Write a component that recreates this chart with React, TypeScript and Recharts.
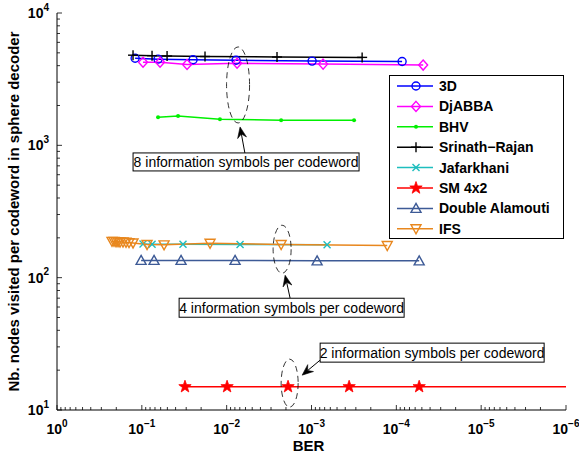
import React from 'react';
import { LineChart, Line, XAxis, YAxis, Legend, ReferenceDot } from 'recharts';

// ---------- data (BER on x, nodes visited on y) ----------
const ber3D = [0.12, 0.0644, 0.0249, 0.00775, 0.000984, 0.0000855];
const nodes3D = [4550, 4480, 4430, 4400, 4330, 4300];

const berDjABBA = [0.0968, 0.061, 0.0293, 0.00754, 0.00073, 0.0000483];
const nodesDjABBA = [4250, 4250, 4080, 4170, 4110, 4040];

const berBHV = [0.0644, 0.0374, 0.012, 0.00228, 0.000315];
const nodesBHV = [1630, 1665, 1575, 1550, 1545];

const berSrinath = [0.127, 0.0758, 0.0504, 0.018, 0.00255, 0.000253];
const nodesSrinath = [4800, 4760, 4730, 4690, 4650, 4620];

const berJafarkhani = [0.0968, 0.0758, 0.0327, 0.00695, 0.000655];
const nodesJafarkhani = [180, 179, 179, 178, 177];

const berSM = [0.031, 0.00989, 0.00189, 0.00036, 0.0000538, 0.000001];
const nodesSM = [15, 15, 15, 15, 15, 15];

const berDouble = [0.102, 0.0718, 0.0345, 0.00796, 0.000859, 0.0000538];
const nodesDouble = [135, 135, 135, 135, 134, 134];

const berIFS = [0.2247, 0.2128, 0.2015, 0.1908, 0.1807, 0.1667, 0.1536, 0.1416, 0.127, 0.0868, 0.0547, 0.0157, 0.00228, 0.000128];
const nodesIFS = [188, 188, 187, 187, 186, 186, 185, 184, 183, 178, 177, 182, 178, 175];

const xDecades = [0, -1, -2, -3, -4, -5, -6];
const yDecades = [1, 2, 3, 4];
const minorMultipliers = [2, 3, 4, 5, 6, 7, 8, 9];

const annotations = [
  { ber: 0.00734, nodes: 2860, text: '8 information symbols per codeword' },
  { ber: 0.00222, nodes: 164, text: '4 information symbols per codeword' },
  { ber: 0.00181, nodes: 15.96, text: '2 information symbols per codeword' },
];

const xTitle = 'BER';
const yTitle = 'Nb. nodes visited per codeword in sphere decoder';

// ---------- helpers ----------
const FONT = '"Liberation Sans", Arial, Helvetica, sans-serif';
const zip = (xs: number[], ys: number[]) => xs.map((x, i) => ({ ber: x, nodes: ys[i] }));

const buildTicks = (decades: number[]) => {
  const out: number[] = [];
  const sorted = [...decades].sort((a, b) => a - b);
  sorted.forEach((e, i) => {
    out.push(Math.pow(10, e));
    if (i < sorted.length - 1) minorMultipliers.forEach((m) => out.push(m * Math.pow(10, e)));
  });
  return out;
};
const xTicks = buildTicks(xDecades);
const yTicks = buildTicks(yDecades);

const expOf = (v: number) => {
  const l = Math.log10(v);
  const r = Math.round(l);
  return Math.abs(l - r) < 1e-6 ? r : null;
};
const supText = (e: number) => (e < 0 ? '\u2212' + Math.abs(e) : String(e));

type Kind = 'circle' | 'diamond' | 'point' | 'plus' | 'cross' | 'star' | 'triUp' | 'triDown';

function Marker({ kind, cx, cy, color }: { kind: Kind; cx: number; cy: number; color: string }) {
  const sw = 1.4;
  switch (kind) {
    case 'circle':
      return <circle cx={cx} cy={cy} r={4} fill="none" stroke={color} strokeWidth={sw} />;
    case 'diamond':
      return (
        <polygon
          points={`${cx},${cy - 5} ${cx + 4.5},${cy} ${cx},${cy + 5} ${cx - 4.5},${cy}`}
          fill="none"
          stroke={color}
          strokeWidth={sw}
        />
      );
    case 'point':
      return <circle cx={cx} cy={cy} r={2} fill={color} stroke="none" />;
    case 'plus':
      return (
        <g stroke={color} strokeWidth={sw}>
          <line x1={cx - 5} x2={cx + 5} y1={cy} y2={cy} />
          <line x1={cx} x2={cx} y1={cy - 5} y2={cy + 5} />
        </g>
      );
    case 'cross':
      return (
        <g stroke={color} strokeWidth={sw}>
          <line x1={cx - 3.5} x2={cx + 3.5} y1={cy - 3.5} y2={cy + 3.5} />
          <line x1={cx - 3.5} x2={cx + 3.5} y1={cy + 3.5} y2={cy - 3.5} />
        </g>
      );
    case 'star': {
      const pts: string[] = [];
      for (let i = 0; i < 10; i++) {
        const r = i % 2 === 0 ? 6.5 : 2.6;
        const a = -Math.PI / 2 + (i * Math.PI) / 5;
        pts.push(`${cx + r * Math.cos(a)},${cy + r * Math.sin(a)}`);
      }
      return <polygon points={pts.join(' ')} fill={color} stroke={color} strokeWidth={0.8} />;
    }
    case 'triUp':
      return (
        <polygon
          points={`${cx},${cy - 5} ${cx + 5},${cy + 4} ${cx - 5},${cy + 4}`}
          fill="none"
          stroke={color}
          strokeWidth={sw}
        />
      );
    case 'triDown':
      return (
        <polygon
          points={`${cx - 5},${cy - 4} ${cx + 5},${cy - 4} ${cx},${cy + 5}`}
          fill="none"
          stroke={color}
          strokeWidth={sw}
        />
      );
  }
  return null;
}

const series: { name: string; color: string; kind: Kind; data: { ber: number; nodes: number }[]; hideLastDot?: boolean }[] = [
  { name: '3D', color: '#0000FF', kind: 'circle', data: zip(ber3D, nodes3D) },
  { name: 'DjABBA', color: '#FF00FF', kind: 'diamond', data: zip(berDjABBA, nodesDjABBA) },
  { name: 'BHV', color: '#00F000', kind: 'point', data: zip(berBHV, nodesBHV) },
  { name: 'Srinath\u2212Rajan', color: '#000000', kind: 'plus', data: zip(berSrinath, nodesSrinath) },
  { name: 'Jafarkhani', color: '#1EBEBE', kind: 'cross', data: zip(berJafarkhani, nodesJafarkhani) },
  { name: 'SM 4x2', color: '#FF0000', kind: 'star', data: zip(berSM, nodesSM), hideLastDot: true },
  { name: 'Double Alamouti', color: '#3D5A96', kind: 'triUp', data: zip(berDouble, nodesDouble) },
  { name: 'IFS', color: '#E8871E', kind: 'triDown', data: zip(berIFS, nodesIFS) },
];

// ---------- ticks ----------
const BottomTick = (p: any) => {
  const { x, y, payload } = p;
  const e = expOf(payload.value);
  const major = e !== null;
  return (
    <g>
      <line x1={x} x2={x} y1={y} y2={y - (major ? 5 : 3)} stroke="#000" strokeWidth={0.8} />
      {major && (
        <text x={x} y={y + 24} textAnchor="middle" fontFamily={FONT} fontWeight="bold" fontSize={14} fill="#000">
          10
          <tspan dy={-7.5} fontSize={10}>
            {supText(e as number)}
          </tspan>
        </text>
      )}
    </g>
  );
};
const TopTick = (p: any) => {
  const { x, y, payload } = p;
  const major = expOf(payload.value) !== null;
  return <line x1={x} x2={x} y1={y} y2={y + (major ? 5 : 3)} stroke="#000" strokeWidth={0.8} />;
};
const LeftTick = (p: any) => {
  const { x, y, payload } = p;
  const e = expOf(payload.value);
  const major = e !== null;
  return (
    <g>
      <line x1={x} x2={x + (major ? 5 : 3)} y1={y} y2={y} stroke="#000" strokeWidth={0.8} />
      {major && (
        <text x={x - 8} y={y + 5} textAnchor="end" fontFamily={FONT} fontWeight="bold" fontSize={14} fill="#000">
          10
          <tspan dy={-7.5} fontSize={10}>
            {supText(e as number)}
          </tspan>
        </text>
      )}
    </g>
  );
};
const RightTick = (p: any) => {
  const { x, y, payload } = p;
  const major = expOf(payload.value) !== null;
  return <line x1={x} x2={x - (major ? 5 : 3)} y1={y} y2={y} stroke="#000" strokeWidth={0.8} />;
};

// ---------- annotations ----------
const annGeom = [
  { rx: 11.5, ry: 38, tip: [2, 42], tail: [7, 69], box: [-105, 68, 226, 18] },
  { rx: 9, ry: 24, tip: [3, 26], tail: [8, 49], box: [-103, 49, 225, 19] },
  { rx: 8.5, ry: 24, tip: [12.5, -8], tail: [30.5, -23], box: [30.5, -40, 224, 19] },
];

const makeAnnotationShape = (i: number, text: string) => (p: any) => {
  const { cx, cy } = p;
  const g = annGeom[i];
  const tx = cx + g.tip[0];
  const ty = cy + g.tip[1];
  const sx = cx + g.tail[0];
  const sy = cy + g.tail[1];
  const dx = tx - sx;
  const dy = ty - sy;
  const len = Math.hypot(dx, dy);
  const ux = dx / len;
  const uy = dy / len;
  const nx = -uy;
  const ny = ux;
  const L = 11;
  const W = 4.5;
  const bx = tx - ux * L;
  const by = ty - uy * L;
  const c1x = tx - ux * L * 0.65;
  const c1y = ty - uy * L * 0.65;
  const head = `${tx},${ty} ${bx + nx * W},${by + ny * W} ${c1x},${c1y} ${bx - nx * W},${by - ny * W}`;
  const [bl, bt, bw, bh] = g.box;
  return (
    <g>
      <ellipse cx={cx} cy={cy} rx={g.rx} ry={g.ry} fill="none" stroke="#000" strokeWidth={0.8} strokeDasharray="6 4" />
      <line x1={sx} y1={sy} x2={c1x} y2={c1y} stroke="#000" strokeWidth={1} />
      <polygon points={head} fill="#000" stroke="#000" strokeWidth={0.6} />
      <rect x={cx + bl} y={cy + bt} width={bw} height={bh} fill="#fff" stroke="#000" strokeWidth={1} />
      <text
        x={cx + bl + bw / 2}
        y={cy + bt + bh / 2 + 5}
        textAnchor="middle"
        fontFamily={FONT}
        fontSize={14}
        fill="#000"
      >
        {text}
      </text>
    </g>
  );
};

// ---------- legend ----------
const LegendBox = () => {
  const rowH = 20.4;
  const h = 164;
  return (
    <div style={{ width: 175, height: h, border: '1px solid #000', background: '#fff', boxSizing: 'border-box' }}>
      <svg width={173} height={h - 2} style={{ display: 'block' }}>
        {series.map((s, i) => {
          const cy = 10 + i * rowH;
          return (
            <g key={s.name}>
              <line x1={7} x2={43} y1={cy} y2={cy} stroke={s.color} strokeWidth={1.5} />
              <Marker kind={s.kind} cx={26} cy={cy} color={s.color} />
              <text x={49} y={cy + 5} fontFamily={FONT} fontWeight="bold" fontSize={14} fill="#000">
                {s.name}
              </text>
            </g>
          );
        })}
      </svg>
    </div>
  );
};

export default function App() {
  return (
    <div style={{ width: 579, height: 455, background: '#fff' }}>
      <style>{'body{margin:0;background:#fff}'}</style>
      <LineChart width={579} height={455} margin={{ top: 13, right: 13, bottom: 0, left: 0 }}>
        <XAxis
          xAxisId="b"
          dataKey="ber"
          type="number"
          scale="log"
          domain={[1e-6, 1]}
          reversed
          allowDataOverflow
          ticks={xTicks}
          interval={0}
          tickSize={0}
          tickMargin={0}
          tickLine={false}
          tick={BottomTick}
          height={45}
          axisLine={{ stroke: '#000', strokeWidth: 1 }}
          label={{
            value: xTitle,
            content: (lp: any) => {
              const vb = lp.viewBox || { x: 57, y: 410, width: 509 };
              return (
                <text
                  x={vb.x + vb.width / 2 - 3}
                  y={vb.y + 41}
                  textAnchor="middle"
                  fontFamily={FONT}
                  fontWeight="bold"
                  fontSize={15}
                  fill="#000"
                >
                  {xTitle}
                </text>
              );
            },
          }}
        />
        <XAxis
          xAxisId="t"
          orientation="top"
          dataKey="ber"
          type="number"
          scale="log"
          domain={[1e-6, 1]}
          reversed
          allowDataOverflow
          ticks={xTicks}
          interval={0}
          tickSize={0}
          tickMargin={0}
          tickLine={false}
          tick={TopTick}
          height={0}
          axisLine={{ stroke: '#000', strokeWidth: 1 }}
        />
        <YAxis
          yAxisId="l"
          dataKey="nodes"
          type="number"
          scale="log"
          domain={[10, 10000]}
          allowDataOverflow
          ticks={yTicks}
          interval={0}
          tickSize={0}
          tickMargin={0}
          tickLine={false}
          tick={LeftTick}
          width={57}
          axisLine={{ stroke: '#000', strokeWidth: 1 }}
          label={{
            value: yTitle,
            content: (lp: any) => {
              const vb = lp.viewBox || { x: 0, y: 13, height: 397 };
              const cy = vb.y + vb.height / 2;
              return (
                <text
                  transform={`translate(19, ${cy}) rotate(-90)`}
                  textAnchor="middle"
                  fontFamily={FONT}
                  fontWeight="bold"
                  fontSize={15}
                  fill="#000"
                >
                  {yTitle}
                </text>
              );
            },
          }}
        />
        <YAxis
          yAxisId="r"
          orientation="right"
          dataKey="nodes"
          type="number"
          scale="log"
          domain={[10, 10000]}
          allowDataOverflow
          ticks={yTicks}
          interval={0}
          tickSize={0}
          tickMargin={0}
          tickLine={false}
          tick={RightTick}
          width={0}
          axisLine={{ stroke: '#000', strokeWidth: 1 }}
        />
        {series.map((s) => (
          <Line
            key={s.name}
            xAxisId="b"
            yAxisId="l"
            data={s.data}
            dataKey="nodes"
            name={s.name}
            type="linear"
            stroke={s.color}
            strokeWidth={1.5}
            isAnimationActive={false}
            dot={(dp: any) =>
              s.hideLastDot && dp.index === s.data.length - 1 ? (
                <g key={`d${dp.index}`} />
              ) : (
                <Marker key={`d${dp.index}`} kind={s.kind} cx={dp.cx} cy={dp.cy} color={s.color} />
              )
            }
            activeDot={false}
          />
        ))}
        {annotations.map((a, i) => (
          <ReferenceDot
            key={`ann${i}`}
            xAxisId="b"
            yAxisId="l"
            x={a.ber}
            y={a.nodes}
            ifOverflow="visible"
            shape={makeAnnotationShape(i, a.text)}
          />
        ))}
        <Legend
          layout="vertical"
          align="center"
          verticalAlign="middle"
          wrapperStyle={{ position: 'absolute', left: 389, top: 75, width: 175, height: 164 }}
          content={() => <LegendBox />}
        />
      </LineChart>
    </div>
  );
}
